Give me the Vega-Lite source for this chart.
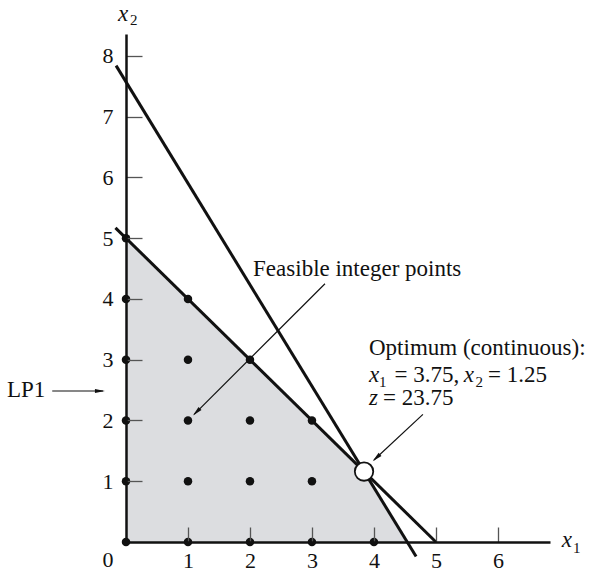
{
  "$schema": "https://vega.github.io/schema/vega-lite/v6.json",
  "width": 424,
  "height": 508,
  "autosize": {"type": "none"},
  "padding": {"left": 126, "top": 34, "right": 41, "bottom": 30},
  "background": "white",
  "config": {
    "view": {"stroke": null},
    "text": {"font": "Liberation Serif", "fontSize": 22, "color": "#111111"}
  },
  "datasets": {
    "region": [
      {"x": 0, "y": 5},
      {"x": 3.84, "y": 1.16},
      {"x": 4.54, "y": 0}
    ],
    "constraints": [
      {"line": "a", "x": -0.16, "y": 7.84},
      {"line": "a", "x": 4.68, "y": -0.24},
      {"line": "b", "x": -0.17, "y": 5.17},
      {"line": "b", "x": 5, "y": 0}
    ],
    "integer": [
      {"x": 0, "y": 0}, {"x": 0, "y": 1}, {"x": 0, "y": 2}, {"x": 0, "y": 3}, {"x": 0, "y": 4}, {"x": 0, "y": 5},
      {"x": 1, "y": 0}, {"x": 1, "y": 1}, {"x": 1, "y": 2}, {"x": 1, "y": 3}, {"x": 1, "y": 4},
      {"x": 2, "y": 0}, {"x": 2, "y": 1}, {"x": 2, "y": 2}, {"x": 2, "y": 3},
      {"x": 3, "y": 0}, {"x": 3, "y": 1}, {"x": 3, "y": 2},
      {"x": 4, "y": 0}
    ],
    "optimum": [{"x": 3.84, "y": 1.16}],
    "shafts": [
      {"x": 3.21, "y": 4.25, "x2": 1.1, "y2": 2.1},
      {"x": 4.79, "y": 2.1, "x2": 4.0, "y2": 1.35},
      {"x": -1.19, "y": 2.485, "x2": -0.37, "y2": 2.485}
    ],
    "tip1": [{"x": 1.08, "y": 2.08}],
    "tip2": [{"x": 3.98, "y": 1.33}],
    "tip3": [{"x": -0.34, "y": 2.485}],
    "regular": [
      {"x": 2.05, "y": 4.38, "t": "Feasible integer points"},
      {"x": 3.92, "y": 3.077, "t": "Optimum (continuous):"},
      {"x": 4.33, "y": 2.633, "t": "= 3.75,"},
      {"x": 5.84, "y": 2.633, "t": "= 1.25"},
      {"x": 4.145, "y": 2.254, "t": "= 23.75"},
      {"x": -1.92, "y": 2.386, "t": "LP1"}
    ],
    "italic": [
      {"x": 3.92, "y": 2.633, "t": "x"},
      {"x": 5.45, "y": 2.633, "t": "x"},
      {"x": 3.92, "y": 2.254, "t": "z"},
      {"x": 7.03, "y": -0.08, "t": "x"},
      {"x": -0.13, "y": 8.58, "t": "x"}
    ],
    "subs": [
      {"x": 4.08, "y": 2.55, "t": "1"},
      {"x": 5.64, "y": 2.55, "t": "2"},
      {"x": 7.21, "y": -0.18, "t": "1"},
      {"x": 0.065, "y": 8.5, "t": "2"}
    ],
    "origin": [{"x": -0.29, "y": -0.3, "t": "0"}]
  },
  "encoding": {
    "x": {
      "field": "x", "type": "quantitative",
      "scale": {"domain": [0, 6.84], "nice": false, "zero": false},
      "axis": {
        "values": [1, 2, 3, 4, 5, 6], "title": null, "grid": false,
        "tickSize": -15, "tickColor": "#555555", "tickWidth": 1.3,
        "domainColor": "#111111", "domainWidth": 2.5,
        "labelFont": "Liberation Serif", "labelFontSize": 22, "labelColor": "#111111",
        "labelPadding": 23, "labelFlush": false, "labelOverlap": false, "zindex": 1
      }
    },
    "y": {
      "field": "y", "type": "quantitative",
      "scale": {"domain": [0, 8.36], "nice": false, "zero": false},
      "axis": {
        "values": [1, 2, 3, 4, 5, 6, 7, 8], "title": null, "grid": false,
        "tickSize": -16, "tickColor": "#555555", "tickWidth": 1.3,
        "domainColor": "#111111", "domainWidth": 2.5,
        "labelFont": "Liberation Serif", "labelFontSize": 22, "labelColor": "#111111",
        "labelPadding": 29, "labelFlush": false, "labelOverlap": false, "zindex": 1
      }
    }
  },
  "layer": [
    {
      "data": {"name": "region"},
      "mark": {"type": "area", "color": "#dcdde0", "opacity": 1},
      "encoding": {}
    },
    {
      "data": {"name": "constraints"},
      "mark": {"type": "line", "color": "#111111", "strokeWidth": 3},
      "encoding": {"detail": {"field": "line"}}
    },
    {
      "data": {"name": "integer"},
      "mark": {"type": "circle", "color": "#111111", "size": 72, "opacity": 1}
    },
    {
      "data": {"name": "optimum"},
      "mark": {"type": "circle", "fill": "white", "stroke": "#111111", "strokeWidth": 1.8, "size": 340, "opacity": 1}
    },
    {
      "data": {"name": "shafts"},
      "mark": {"type": "rule", "color": "#111111", "strokeWidth": 1.2},
      "encoding": {"x2": {"field": "x2"}, "y2": {"field": "y2"}}
    },
    {
      "data": {"name": "tip1"},
      "mark": {"type": "point", "shape": "M0,0L-0.42,2L0.42,2Z", "size": 100, "filled": true, "color": "#111111", "opacity": 1, "angle": 225}
    },
    {
      "data": {"name": "tip2"},
      "mark": {"type": "point", "shape": "M0,0L-0.42,2L0.42,2Z", "size": 100, "filled": true, "color": "#111111", "opacity": 1, "angle": 227}
    },
    {
      "data": {"name": "tip3"},
      "mark": {"type": "point", "shape": "M0,0L-0.42,2L0.42,2Z", "size": 100, "filled": true, "color": "#111111", "opacity": 1, "angle": 90}
    },
    {
      "data": {"name": "regular"},
      "mark": {"type": "text", "align": "left", "baseline": "alphabetic", "fontSize": 23},
      "encoding": {"text": {"field": "t"}}
    },
    {
      "data": {"name": "italic"},
      "mark": {"type": "text", "align": "left", "baseline": "alphabetic", "fontSize": 23, "fontStyle": "italic"},
      "encoding": {"text": {"field": "t"}}
    },
    {
      "data": {"name": "subs"},
      "mark": {"type": "text", "align": "left", "baseline": "alphabetic", "fontSize": 15},
      "encoding": {"text": {"field": "t"}}
    },
    {
      "data": {"name": "origin"},
      "mark": {"type": "text", "align": "center", "baseline": "middle", "fontSize": 22},
      "encoding": {"text": {"field": "t"}}
    }
  ]
}
